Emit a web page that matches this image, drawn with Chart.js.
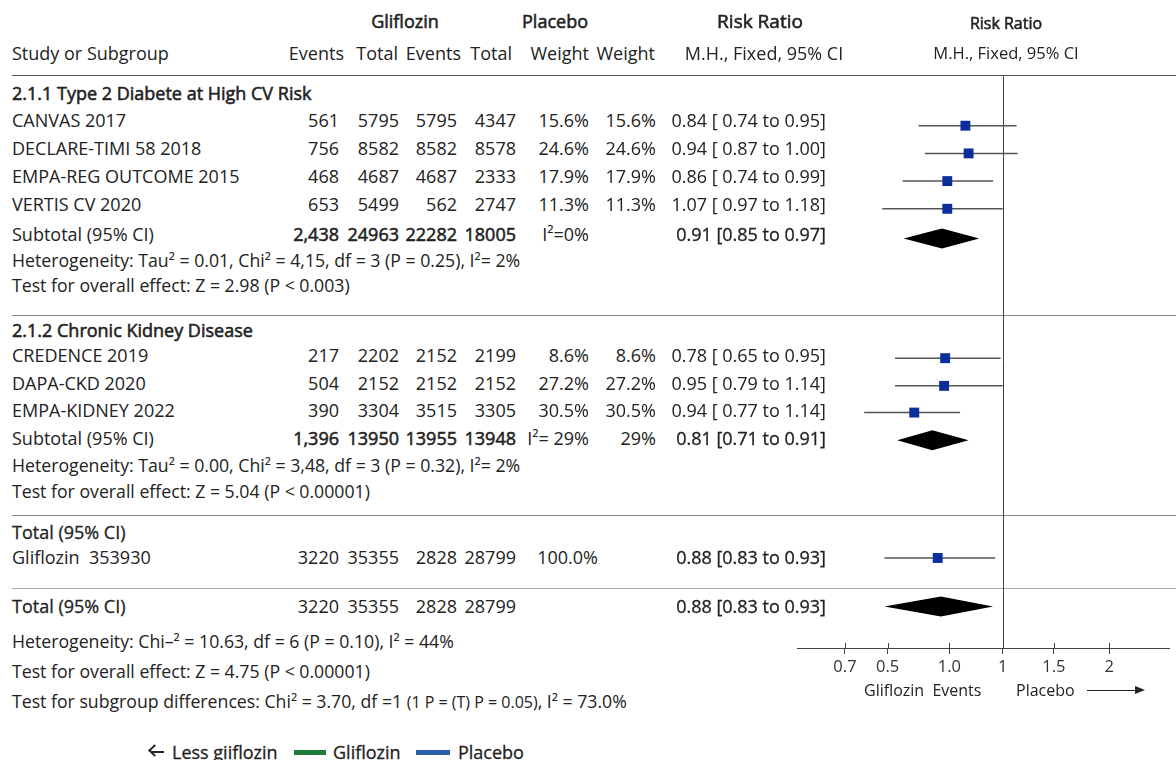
<!DOCTYPE html>
<html>
<head>
<meta charset="utf-8">
<script src="https://cdn.jsdelivr.net/npm/chart.js@4.4.1/dist/chart.umd.min.js"></script>
<style>
  html, body { margin: 0; padding: 0; background: #fff; }
  #wrap { position: relative; width: 1176px; height: 760px; overflow: hidden;
          font-family: "Open Sans", "Noto Sans", sans-serif; color: #222; }
  #wrap .t { position: absolute; white-space: pre; line-height: 1; font-size: 18px; }
  .rule { position: absolute; left: 12px; right: 0; height: 0; }
  #forest { position: absolute; left: 790px; top: 0; }
</style>
</head>
<body>
<div id="wrap">
  <canvas id="forest" width="386" height="760"></canvas>
</div>
<script>
// ---- data ----
const studies = ['CANVAS 2017', 'DECLARE-TIMI 58 2018', 'EMPA-REG OUTCOME 2015', 'VERTIS CV 2020',
                 'CREDENCE 2019', 'DAPA-CKD 2020', 'EMPA-KIDNEY 2022'];
const glifEvents = ['561', '756', '468', '653', '217', '504', '390'];
const glifTotal = ['5795', '8582', '4687', '5499', '2202', '2152', '3304'];
const placEvents = ['5795', '8582', '4687', '562', '2152', '2152', '3515'];
const placTotal = ['4347', '8578', '2333', '2747', '2199', '2152', '3305'];
const weights = ['15.6%', '24.6%', '17.9%', '11.3%', '8.6%', '27.2%', '30.5%'];
const rrText = ['0.84 [ 0.74 to 0.95]', '0.94 [ 0.87 to 1.00]', '0.86 [ 0.74 to 0.99]', '1.07 [ 0.97 to 1.18]',
                '0.78 [ 0.65 to 0.95]', '0.95 [ 0.79 to 1.14]', '0.94 [ 0.77 to 1.14]'];
// where each marker sits on the drawn risk-ratio axis (as plotted, not the printed values)
const studyEst = [0.65, 0.68, 0.48, 0.48, 0.46, 0.45, 0.17];
const studyLo = [0.21, 0.27, 0.06, -0.13, -0.01, -0.01, -0.30];
const studyHi = [1.13, 1.14, 0.91, 1.00, 0.98, 1.00, 0.60];

const subgroups = ['2.1.1 Type 2 Diabete at High CV Risk', '2.1.2 Chronic Kidney Disease'];
const subGlifEvents = ['2,438', '1,396'];
const subGlifTotal = ['24963', '13950'];
const subPlacEvents = ['22282', '13955'];
const subPlacTotal = ['18005', '13948'];
const subWeight1 = ['I\u00b2=0%', 'I\u00b2= 29%'];
const subWeight2 = ['', '29%'];
const subRR = ['0.91 [0.85 to 0.97]', '0.81 [0.71 to 0.91]'];
const subEst = [0.43, 0.34];
const subLo = [0.07, 0.01];
const subHi = [0.78, 0.68];
const subHet = ['Heterogeneity: Tau\u00b2 = 0.01, Chi\u00b2 = 4,15, df = 3 (P = 0.25), I\u00b2= 2%',
                'Heterogeneity: Tau\u00b2 = 0.00, Chi\u00b2 = 3,48, df = 3 (P = 0.32), I\u00b2= 2%'];
const subTest = ['Test for overall effect: Z = 2.98 (P < 0.003)',
                 'Test for overall effect: Z = 5.04 (P < 0.00001)'];

const pooledName = 'Gliflozin  353930';
const pooledCounts = ['3220', '35355', '2828', '28799'];
const pooledWeight = '100.0%';
const pooledRR = '0.88 [0.83 to 0.93]';
const pooledEst = 0.39, pooledLo = -0.11, pooledHi = 0.93;

const totalCounts = ['3220', '35355', '2828', '28799'];
const totalRR = '0.88 [0.83 to 0.93]';
const totalEst = 0.42, totalLo = -0.11, totalHi = 0.91;

const tickPos = [-0.48, -0.08, 0.5, 1, 1.48, 2];
const tickLabels = ['0.7', '0.5', '1.0', '1', '1.5', '2'];

// ---- layout ----
const W = 1176;
const COL = { name: 12, ev1: 339, tot1: 399, ev2: 457, tot2: 516, w1: 589, w2: 656, rr: 826 };
const studyY = [120, 148, 176, 204, 355, 383, 410];
const subTitleY = [93, 330], subTotalY = [234, 438], subHetY = [261, 466], subTestY = [286, 492];
const pooledHeadY = 532, pooledY = 557, totalY = 606;
const AXIS_BOTTOM = 648;

const wrap = document.getElementById('wrap');

function put(text, x, y, align, style) {
  const el = document.createElement('div');
  el.className = 't';
  el.textContent = text;
  el.style.top = y + 'px';
  if (align === 'right') {
    el.style.right = (W - x) + 'px';
    el.style.transform = 'translateY(-50%)';
  } else if (align === 'center') {
    el.style.left = x + 'px';
    el.style.transform = 'translate(-50%, -50%)';
  } else {
    el.style.left = x + 'px';
    el.style.transform = 'translateY(-50%)';
  }
  if (style) Object.assign(el.style, style);
  wrap.appendChild(el);
  return el;
}

function rule(y, color, width) {
  const d = document.createElement('div');
  d.className = 'rule';
  d.style.top = y + 'px';
  d.style.borderTop = width + 'px solid ' + color;
  wrap.insertBefore(d, wrap.firstChild);
}

function counts(vals, y, style) {
  put(vals[0], COL.ev1, y, 'right', style);
  put(vals[1], COL.tot1, y, 'right', style);
  put(vals[2], COL.ev2, y, 'right', style);
  put(vals[3], COL.tot2, y, 'right', style);
}

// separators
rule(75, '#555', 1.5);
rule(315, '#888', 1);
rule(515, '#888', 1);
rule(588, '#aaa', 1.5);

// faux weights: stroke the regular face so it reads semi-bold / medium
const semi = { webkitTextStroke: '0.55px #222' };
const medium = { webkitTextStroke: '0.3px #222' };
const small = { fontSize: '17.7px' };

// headers
put('Gliflozin', 405, 21, 'center', semi);
put('Placebo', 555, 21, 'center', semi);
put('Risk Ratio', 760, 21, 'center', Object.assign({ fontSize: '19px' }, semi));
put('Risk Ratio', 1006, 23, 'center', Object.assign({ fontSize: '16px' }, semi));
put('Study or Subgroup', COL.name, 53);
put('Events', 344, 53, 'right');
put('Total', 398, 53, 'right');
put('Events', 461, 53, 'right');
put('Total', 512, 53, 'right');
put('Weight', COL.w1, 53, 'right');
put('Weight', 655, 53, 'right');
put('M.H., Fixed, 95% CI', 764, 53, 'center');
put('M.H., Fixed, 95% CI', 1006, 53, 'center', { fontSize: '16.5px' });

// subgroups and studies
subgroups.forEach((g, k) => {
  put(g, COL.name, subTitleY[k], 'left', semi);
  put('Subtotal (95% CI)', COL.name, subTotalY[k]);
  counts([subGlifEvents[k], subGlifTotal[k], subPlacEvents[k], subPlacTotal[k]], subTotalY[k], semi);
  put(subWeight1[k], COL.w1, subTotalY[k], 'right');
  put(subWeight2[k], COL.w2, subTotalY[k], 'right');
  put(subRR[k], COL.rr, subTotalY[k], 'right', medium);
  put(subHet[k], COL.name, subHetY[k], 'left', small);
  put(subTest[k], COL.name, subTestY[k], 'left', small);
});
studies.forEach((s, i) => {
  const y = studyY[i];
  put(s, COL.name, y);
  counts([glifEvents[i], glifTotal[i], placEvents[i], placTotal[i]], y);
  put(weights[i], COL.w1, y, 'right');
  put(weights[i], COL.w2, y, 'right');
  put(rrText[i], COL.rr, y, 'right');
});

// pooled and overall
put('Total (95% CI)', COL.name, pooledHeadY, 'left', medium);
put(pooledName, COL.name, pooledY);
counts(pooledCounts, pooledY);
put(pooledWeight, 598, pooledY, 'right');
put(pooledRR, COL.rr, pooledY, 'right', medium);
put('Total (95% CI)', COL.name, totalY, 'left', medium);
counts(totalCounts, totalY);
put(totalRR, COL.rr, totalY, 'right', medium);
put('Heterogeneity: Chi\u2013\u00b2 = 10.63, df = 6 (P = 0.10), I\u00b2 = 44%', COL.name, 642, 'left', small);
put('Test for overall effect: Z = 4.75 (P < 0.00001)', COL.name, 672, 'left', small);
const diff = put('', COL.name, 702, 'left', small);
diff.innerHTML = 'Test for subgroup differences: Chi\u00b2 = 3.70, df =1 <span style="font-size:16px">(1 P = (T) P = 0.05)</span>, I\u00b2 = 73.0%';

// axis caption under the plot
put('Gliflozin  Events', 864, 690, 'left', { fontSize: '16px' });
put('Placebo', 1016, 690, 'left', { fontSize: '16px' });
const arrow = document.createElement('div');
arrow.style.cssText = 'position:absolute;left:1087px;top:690px;width:49px;border-top:1.5px solid #222;';
wrap.appendChild(arrow);
const head = document.createElement('div');
head.style.cssText = 'position:absolute;left:1135px;top:686px;width:0;height:0;border-top:4.5px solid transparent;border-bottom:4.5px solid transparent;border-left:10px solid #222;';
wrap.appendChild(head);

// bottom legend
const backArrow = document.createElement('div');
backArrow.style.cssText = 'position:absolute;left:152px;top:751px;width:12px;border-top:2px solid #222;';
wrap.appendChild(backArrow);
const backHead = document.createElement('div');
backHead.style.cssText = 'position:absolute;left:150px;top:746px;width:7px;height:7px;border-left:2px solid #222;border-bottom:2px solid #222;transform:rotate(45deg);';
wrap.appendChild(backHead);
put('Less giiflozin', 172, 752, 'left', medium);
const sw1 = document.createElement('div');
sw1.style.cssText = 'position:absolute;left:294px;top:750px;width:32px;height:5px;background:#1e7b3c;';
wrap.appendChild(sw1);
put('Gliflozin', 333, 752, 'left', medium);
const sw2 = document.createElement('div');
sw2.style.cssText = 'position:absolute;left:416px;top:750px;width:34px;height:5px;background:#2760a8;';
wrap.appendChild(sw2);
put('Placebo', 458, 752, 'left', medium);

// ---- forest plot ----
// Vertical no-effect line at RR = 1 plus the upper half of the axis ticks
const refLinePlugin = {
  id: 'refLine',
  beforeDatasetsDraw(chart, args, opts) {
    const { ctx, chartArea, scales: { x } } = chart;
    ctx.save();
    ctx.strokeStyle = '#444';
    ctx.lineWidth = 1;
    const px = Math.round(x.getPixelForValue(1)) + 0.5;
    ctx.beginPath();
    ctx.moveTo(px, opts.top);
    ctx.lineTo(px, chartArea.bottom);
    opts.ticks.forEach(v => {
      const tx = Math.round(x.getPixelForValue(v)) + 0.5;
      ctx.moveTo(tx, chartArea.bottom - 5);
      ctx.lineTo(tx, chartArea.bottom);
    });
    ctx.stroke();
    ctx.restore();
  }
};

// Summary diamonds drawn through the chart scales
const diamondPlugin = {
  id: 'diamonds',
  afterDatasetsDraw(chart, args, opts) {
    const { ctx, scales: { x, y } } = chart;
    ctx.save();
    ctx.fillStyle = '#000';
    opts.items.forEach(d => {
      const cy = y.getPixelForValue(d.y);
      ctx.beginPath();
      ctx.moveTo(x.getPixelForValue(d.lo), cy);
      ctx.lineTo(x.getPixelForValue(d.est), cy - opts.half);
      ctx.lineTo(x.getPixelForValue(d.hi), cy);
      ctx.lineTo(x.getPixelForValue(d.est), cy + opts.half);
      ctx.closePath();
      ctx.fill();
    });
    ctx.restore();
  }
};

const ciSets = studies.map((s, i) => ({
  type: 'line',
  data: [{ x: studyLo[i], y: studyY[i] }, { x: studyHi[i], y: studyY[i] }],
  borderColor: '#555', borderWidth: 1.5, pointRadius: 0, order: 1
}));
ciSets.push({
  type: 'line',
  data: [{ x: pooledLo, y: pooledY }, { x: pooledHi, y: pooledY }],
  borderColor: '#555', borderWidth: 1.5, pointRadius: 0, order: 1
});

const squares = {
  type: 'scatter',
  data: studies.map((s, i) => ({ x: studyEst[i], y: studyY[i] })).concat([{ x: pooledEst, y: pooledY }]),
  pointStyle: 'rect', pointRadius: 7, backgroundColor: '#0a2e9c', borderColor: '#0a2e9c', borderWidth: 0, order: 0
};

const diamonds = subgroups.map((g, k) => ({ est: subEst[k], lo: subLo[k], hi: subHi[k], y: subTotalY[k] }))
  .concat([{ est: totalEst, lo: totalLo, hi: totalHi, y: totalY }]);

new Chart(document.getElementById('forest'), {
  type: 'scatter',
  data: { datasets: [squares].concat(ciSets) },
  plugins: [refLinePlugin, diamondPlugin],
  options: {
    responsive: false,
    animation: false,
    events: [],
    layout: { padding: 0 },
    plugins: {
      legend: { display: false },
      tooltip: { enabled: false },
      refLine: { top: 75, ticks: tickPos },
      diamonds: { items: diamonds, half: 10 }
    },
    scales: {
      x: {
        type: 'linear', min: -0.93, max: 2.56, position: 'bottom',
        afterBuildTicks: s => { s.ticks = tickPos.map(v => ({ value: v })); },
        afterFit: s => { s.height = 760 - AXIS_BOTTOM; },
        ticks: {
          autoSkip: false, maxRotation: 0, padding: 3, color: '#333',
          font: { family: 'Open Sans', size: 16.5 },
          callback: (v, i) => tickLabels[i]
        },
        grid: { drawOnChartArea: false, drawTicks: true, tickLength: 6, color: '#444' },
        border: { display: true, color: '#444', width: 1 }
      },
      y: { type: 'linear', display: false, min: 0, max: AXIS_BOTTOM, reverse: true }
    }
  }
});
</script>
</body>
</html>
